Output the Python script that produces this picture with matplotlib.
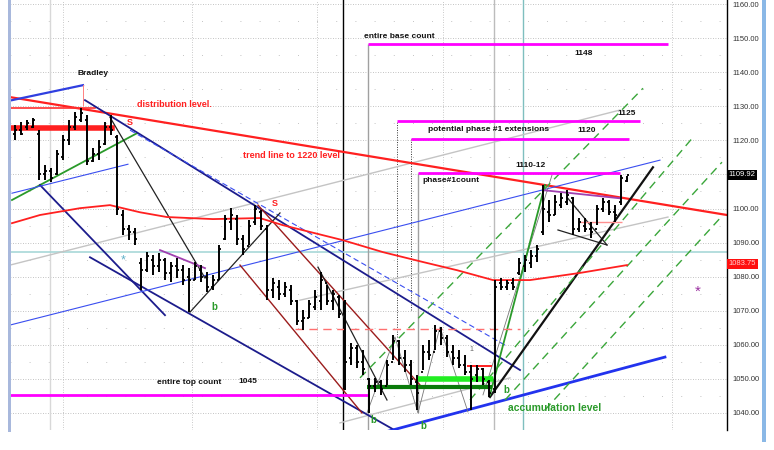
import numpy as np
import matplotlib
matplotlib.use("Agg")
import matplotlib.pyplot as plt
from matplotlib.patches import Rectangle

plt.rcParams['font.family'] = ['Liberation Sans', 'DejaVu Sans']

# daily bars (bar index = trading day)
highs = [1124.5, 1125.3, 1125.9, 1126.5, 1123.0, 1112.7, 1111.8, 1117.1, 1121.5, 1125.9,
         1128.3, 1129.4, 1127.4, 1117.7, 1120.1, 1125.3, 1127.4, 1121.5, 1099.5, 1095.1,
         1094.3, 1085.5, 1087.2, 1086.3, 1086.9, 1085.5, 1084.3, 1085.5, 1083.4, 1082.5,
         1084.3, 1083.4, 1081.3, 1080.5, 1089.3, 1098.1, 1100.1, 1098.1, 1092.2, 1096.6,
         1101.0, 1099.5, 1095.1, 1079.6, 1079.0, 1078.4, 1077.5, 1073.1, 1070.2, 1073.1,
         1076.1, 1081.3, 1077.5, 1076.1, 1074.6, 1073.1, 1060.5, 1059.9, 1058.5, 1050.3,
         1050.3, 1049.7, 1055.5, 1062.9, 1061.4, 1058.5, 1055.5, 1051.1, 1059.9, 1061.4,
         1065.8, 1065.2, 1062.9, 1059.9, 1058.5, 1057.0, 1054.1, 1054.1, 1053.2, 1049.7,
         1079.0, 1079.6, 1079.0, 1079.6, 1085.5, 1086.3, 1087.8, 1089.3, 1106.9, 1102.5,
         1103.9, 1104.5, 1105.4, 1103.3, 1097.2, 1097.2, 1096.0, 1101.0, 1103.0, 1102.5,
         1101.0, 1109.8, 1109.5]
lows = [1120.1, 1121.5, 1123.0, 1123.6, 1108.3, 1108.3, 1107.7, 1109.8, 1114.2, 1118.6,
        1123.0, 1125.3, 1112.7, 1113.6, 1114.2, 1118.6, 1121.5, 1098.1, 1092.2, 1090.7,
        1089.3, 1076.1, 1081.3, 1080.4, 1081.3, 1079.0, 1078.4, 1079.6, 1077.5, 1069.6,
        1079.0, 1078.4, 1075.5, 1076.1, 1079.0, 1090.7, 1093.7, 1089.3, 1086.3, 1089.3,
        1095.1, 1093.7, 1073.1, 1073.7, 1073.1, 1074.0, 1071.7, 1065.8, 1064.3, 1067.9,
        1070.2, 1070.2, 1071.7, 1070.2, 1067.9, 1046.7, 1054.1, 1053.2, 1051.1, 1040.0,
        1046.2, 1045.3, 1048.2, 1055.5, 1054.1, 1052.0, 1048.2, 1040.9, 1052.6, 1055.5,
        1058.5, 1059.9, 1056.4, 1054.1, 1053.2, 1051.1, 1040.9, 1049.1, 1048.2, 1044.7,
        1045.9, 1076.1, 1076.1, 1076.1, 1080.5, 1081.3, 1082.5, 1084.3, 1092.2, 1096.0,
        1098.1, 1100.1, 1101.0, 1092.2, 1093.1, 1093.1, 1091.3, 1095.1, 1098.9, 1098.1,
        1096.0, 1101.0, 1107.7]
opens = [1122, 1123, 1124, 1124, 1122, 1110, 1111, 1110, 1115, 1120,
         1124, 1126, 1126, 1114, 1116, 1119, 1124, 1121, 1098, 1094,
         1093, 1084, 1082, 1085, 1083, 1085, 1081, 1083, 1082, 1080,
         1079, 1082, 1080, 1077, 1079, 1091, 1096, 1097, 1091, 1089,
         1096, 1099, 1094, 1076, 1077, 1075, 1076, 1073, 1067, 1068,
         1071, 1073, 1078, 1073, 1074, 1070, 1056, 1059, 1055, 1050,
         1048, 1049, 1048, 1055, 1061, 1056, 1054, 1049, 1052, 1058,
         1058, 1064, 1062, 1058, 1056, 1054, 1052, 1051, 1053, 1049,
         1047, 1078, 1077, 1078, 1081, 1083, 1084, 1086, 1093, 1099,
         1098, 1101, 1102, 1103, 1094, 1095, 1094, 1094, 1100, 1102,
         1099, 1102, 1108]
closes = [1123, 1122, 1125, 1126, 1110, 1111, 1109, 1116, 1120, 1124,
          1127, 1128, 1114, 1116, 1118, 1124, 1123, 1100, 1094, 1093,
          1091, 1082, 1086, 1083, 1085, 1081, 1083, 1082, 1079, 1079,
          1083, 1080, 1077, 1079, 1088, 1097, 1098, 1091, 1088, 1095,
          1100, 1095, 1076, 1078, 1075, 1077, 1073, 1067, 1068, 1072,
          1074, 1079, 1073, 1075, 1069, 1055, 1059, 1055, 1053, 1048,
          1049, 1047, 1054, 1061, 1056, 1054, 1050, 1046, 1058, 1057,
          1064, 1062, 1058, 1056, 1054, 1052, 1050, 1053, 1050, 1046,
          1077, 1077, 1078, 1077, 1084, 1085, 1086, 1088, 1100, 1098,
          1102, 1103, 1104, 1094, 1096, 1094, 1093, 1100, 1102, 1099,
          1098, 1109, 1109.92]

# moving average
ma_x = [-0.5, 4.17, 10.83, 15.83, 20.83, 25.33, 33, 40.83, 44.67, 54.67,
        61.33, 68, 73.67, 79.67, 85.83, 94.17, 102]
ma_y = [1095.7, 1098.1, 1100.1, 1101.0, 1098.9, 1097.5, 1096.9, 1097.2, 1095.1, 1090.7,
        1087.2, 1084.3, 1081.9, 1079.0, 1079.0, 1081.1, 1083.4]

# trend lines: ((bar, price), (bar, price))
distribution_line = [(-0.83, 1132.7), (118.67, 1098.1)]
red_top = [(-0.83, 1129.4), (13.33, 1129.4)]
red_band = [(-0.83, 1123.6), (16.17, 1123.6)]
bradley_blue = [(-0.5, 1131.8), (11.33, 1136.2)]
bradley_mark = [(11.33, 1136.2), (11.33, 1130.5)]
green_left = [(-0.5, 1102.5), (20.33, 1122.1)]
navy_lines = [[(11.67, 1131.8), (84.17, 1052.6)],
              [(4.17, 1106.9), (25, 1068.7)],
              [(12.5, 1085.7), (63.83, 1034.4)]]
blue_thin = [[(-0.5, 1104.5), (18.83, 1113.0)],
             [(-0.83, 1065.8), (107.5, 1114.2)]]
blue_dashed = [(19.17, 1123.0), (81.67, 1059.9)]
accumulation_line = [(61.67, 1034.4), (108.33, 1056.4)]
gray_lines = [[(-0.83, 1083.4), (100.83, 1128.9)],
              [(47.5, 1073.1), (108.83, 1097.5)],
              [(54.17, 1037.1), (82.5, 1050.3)]]
black_lines = [[(15.83, 1126.8), (31.67, 1079.6)],
               [(29.17, 1069.6), (44.17, 1098.7)],
               [(50.5, 1082.8), (62, 1043.8)],
               [(92, 1103.3), (98.67, 1089.3)],
               [(90.5, 1093.7), (98.67, 1089.3)]]
black_up = [(79.17, 1044.7), (106.33, 1112.1)]
thin_lines = [[(78, 1045.3), (89.5, 1109.8)],
              [(58.67, 1040.0), (63.33, 1062.3), (67.17, 1040.0), (70.83, 1065.2), (75.5, 1040.3)]]
brown_lines = [[(37.5, 1083.4), (57.83, 1040.0)],
               [(40.5, 1101.0), (67.5, 1048.2)]]
green_solid = [(79.17, 1045.3), (88.33, 1106.9)]
green_dashed = [[(57.5, 1050.3), (104.67, 1135.3)],
                [(75.83, 1043.8), (113, 1120.9)],
                [(81.67, 1043.8), (117.83, 1113.6)],
                [(88.33, 1040.9), (118, 1098.1)]]
purple_lines = [[(24.17, 1087.8), (31.67, 1082.5)],
                [(88, 1105.4), (100.83, 1103.0)]]

# count levels: (price, start bar, end bar)
magenta_levels = [(1148.2, 58.83, 108.83), (1125.6, 63.67, 104.17),
                  (1120.4, 66, 102.33), (1110.3, 67.17, 100.83), (1045.3, -0.83, 58.83)]
dark_green_level = (1047.6, 58.67, 79.5)
light_green_level = (1050.0, 67.17, 79.67)
red_short_level = (1053.8, 75.33, 79.5)
red_dashed_level = (1064.6, 46.67, 84.17)
red_light_level = (1096.0, 93.83, 101.17)
cyan_level = 1087.2

grid_x = [8, 29.5, 50.33, 71.33, 109.5]
y_ticks = list(range(1040, 1161, 10))
last_price = 1109.92
ref_price = 1083.75


def draw(pts, **kw):
    xs, ys = zip(*pts)
    ax.plot(xs, ys, **kw)


fig = plt.figure(figsize=(7.74, 4.5), dpi=100)
ax = fig.add_axes([10 / 774, 20 / 450, 717 / 774, 430 / 450])
ax.set_xlim(-0.83, 118.67)
ax.set_ylim(1035.0, 1161.2)

# grid
for g in y_ticks:
    ax.axhline(g, color='#b0b0b0', lw=0.6, ls=(0, (1, 2)), zorder=0)
    ax.axhline(g + 5, color='#b0b0b0', lw=0.6, ls=(0, (1, 22)), zorder=0)
for g in grid_x:
    ax.axvline(g, color='#b8b8b8', lw=0.6, ls=(0, (1, 2)), zorder=0)

# vertical markers
ax.axvline(5.83, color='#d8d8d8', lw=1, zorder=1)
ax.axvline(54.67, color='black', lw=1, zorder=1)
ax.axvline(79.83, color='#bcbcbc', lw=1, zorder=1)
ax.axvline(84.67, color='#7fbfbf', lw=1, zorder=1)
ax.axhline(cyan_level, color='#a8d8d8', lw=1.2, zorder=1)
ax.vlines(58.83, 1035, 1148.2, color='#a0a0a0', lw=1, zorder=1)
ax.vlines(67.17, 1040.0, 1110.3, color='#a0a0a0', lw=1, zorder=1)
ax.vlines(63.67, 1062.3, 1125.6, color='#333333', lw=0.7, ls=(0, (1, 1.5)), zorder=1)
ax.vlines(66, 1070.2, 1120.4, color='#333333', lw=0.7, ls=(0, (1, 1.5)), zorder=1)

# trend lines
for ln in gray_lines:
    draw(ln, color='#c4c4c4', lw=1, zorder=1.5)
draw(distribution_line, color='#ff2020', lw=1.6, zorder=2)
draw(red_top, color='#ff3030', lw=1.2, zorder=2)
draw(red_band, color='#ff2020', lw=4, zorder=2)
draw(bradley_blue, color='#2f3fe0', lw=1.6, zorder=2)
draw(bradley_mark, color='#ff8080', lw=0.7, zorder=2)
draw(green_left, color='#2a9a2a', lw=1.3, zorder=2)
for ln in navy_lines:
    draw(ln, color='#1c1c8c', lw=1.3, zorder=2)
for ln in blue_thin:
    draw(ln, color='#3a4ef0', lw=0.8, zorder=2)
draw(blue_dashed, color='#3a4ef0', lw=0.8, ls=(0, (5, 3)), zorder=2)
draw(accumulation_line, color='#2233ee', lw=2, zorder=2)
for ln in brown_lines:
    draw(ln, color='#9b1c1c', lw=1, zorder=2)
for ln in black_lines:
    draw(ln, color='#222222', lw=0.9, zorder=2)
draw(black_up, color='#111111', lw=1.6, zorder=2)
for ln in thin_lines:
    draw(ln, color='#777777', lw=0.6, zorder=2)
draw(green_solid, color='#2a9a2a', lw=1.3, zorder=2)
for ln in green_dashed:
    draw(ln, color='#3aa63a', lw=1, ls=(0, (6, 4)), zorder=2)
for ln in purple_lines:
    draw(ln, color='#a040b0', lw=1.3, zorder=2)
ax.plot(ma_x, ma_y, color='#ff2020', lw=1.3, zorder=2)

for p, a, b in magenta_levels:
    ax.hlines(p, a, b, color='#ff00ff', lw=2, zorder=2.5)
ax.hlines(dark_green_level[0], dark_green_level[1], dark_green_level[2], color='#0a7a0a', lw=3, zorder=2.5)
ax.hlines(light_green_level[0], light_green_level[1], light_green_level[2], color='#22ee22', lw=4, zorder=2.5)
ax.hlines(red_short_level[0], red_short_level[1], red_short_level[2], color='#ff2020', lw=1.4, zorder=2.5)
ax.hlines(red_dashed_level[0], red_dashed_level[1], red_dashed_level[2], color='#ff7070', lw=1, ls=(0, (6, 4)), zorder=2.5)
ax.hlines(red_light_level[0], red_light_level[1], red_light_level[2], color='#ff9090', lw=1, zorder=2.5)

# price bars
x = np.arange(len(highs))
ax.vlines(x, lows, highs, color='black', lw=1.4, zorder=3)
ax.hlines(opens, x - 0.4, x, color='black', lw=1.3, zorder=3)
ax.hlines(closes, x, x + 0.4, color='black', lw=1.3, zorder=3)

# labels
lab = dict(fontsize=6, fontweight='bold', color='#111111', va='center', ha='left', zorder=4)
ax.text(10.5, 1139.7, 'Bradley', **lab)
ax.text(58.17, 1150.6, 'entire base count', **lab)
ax.text(93.17, 1145.6, '1148', **lab)
ax.text(100.33, 1128.0, '1125', **lab)
ax.text(68.83, 1123.3, 'potential phase #1 extensions', **lab)
ax.text(93.67, 1123.0, '1120', **lab)
ax.text(83.33, 1112.7, '1110-12', **lab)
ax.text(67.83, 1108.3, 'phase#1count', **lab)
ax.text(23.67, 1048.8, 'entire top count', **lab)
ax.text(37.17, 1049.1, '1045', **lab)
red_lab = dict(lab, color='#ff2020', fontsize=6.5)
ax.text(20.33, 1130.6, 'distribution level.', **red_lab)
ax.text(38, 1115.7, 'trend line to 1220 level', **red_lab)
ax.text(18.67, 1125.3, 'S', **red_lab)
ax.text(42.83, 1101.6, 'S', **red_lab)
grn = dict(lab, color='#2a9a2a', fontsize=7)
for bx, by in [(32.67, 1071.1), (59.17, 1037.9), (67.5, 1036.2), (81.33, 1046.7)]:
    ax.text(bx, by, 'b', **grn)
ax.text(82.17, 1041.5, 'accumulation level', **dict(grn, fontsize=7.5))
ax.text(75.83, 1058.5, '1', fontsize=5, color='#666666', va='center', zorder=4)
ax.text(18, 1084.9, '*', fontsize=9, color='#5fb0c8', va='center', ha='center', zorder=4)
ax.text(113.83, 1075.5, '*', fontsize=11, color='#9a30a0', va='center', ha='center', zorder=4)

# right axis (the 1110 label sits under the last-price box)
for s in ['left', 'top', 'bottom']:
    ax.spines[s].set_visible(False)
ax.spines['right'].set_linewidth(1)
ax.set_xticks([])
ax.yaxis.tick_right()
ax.set_yticks(y_ticks)
ax.set_yticklabels(['' if t == 1110 else '%.2f' % t for t in y_ticks])
ax.tick_params(axis='y', length=0, pad=4, labelsize=5.5, labelcolor='#333333')
ax.text(1.002, last_price, '%.2f' % last_price, transform=ax.get_yaxis_transform(),
        fontsize=5.5, color='white', va='center', ha='left',
        bbox=dict(facecolor='black', edgecolor='none', pad=1.2))
ax.text(1.002, ref_price, '%.2f' % ref_price, transform=ax.get_yaxis_transform(),
        fontsize=5.5, color='#ffd0d0', va='center', ha='left',
        bbox=dict(facecolor='#ff1010', edgecolor='none', pad=1.2))

fig.add_artist(Rectangle((8 / 774, 18 / 450), 3 / 774, 432 / 450, transform=fig.transFigure,
                         color='#a8b8dc', lw=0))
fig.add_artist(Rectangle((762 / 774, 8 / 450), 4 / 774, 442 / 450, transform=fig.transFigure,
                         color='#8ab8e6', lw=0))

fig.savefig('out.png', dpi=100)
